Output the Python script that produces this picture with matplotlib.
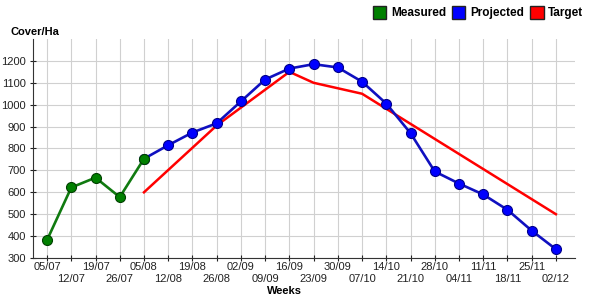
import numpy as np
import matplotlib
matplotlib.use('Agg')
import matplotlib.pyplot as plt
from matplotlib.patches import Patch

plt.rcParams['font.family'] = ['Liberation Sans', 'DejaVu Sans']

weeks = ['05/07', '12/07', '19/07', '26/07', '05/08', '12/08', '19/08', '26/08',
         '02/09', '09/09', '16/09', '23/09', '30/09', '07/10', '14/10', '21/10',
         '28/10', '04/11', '11/11', '18/11', '25/11', '02/12']

measured_idx = [0, 1, 2, 3, 4]
measured = [382, 622, 667, 578, 753]

projected_idx = list(range(4, 22))
projected = [753, 815, 873, 915, 1015, 1115, 1165, 1185, 1170, 1105, 1005,
             870, 695, 640, 590, 520, 425, 340]

target_idx = [4, 7, 10, 11, 13, 21]
target = [600, 905, 1150, 1100, 1050, 500]

fig = plt.figure(figsize=(6, 3.02), dpi=100)
ax = fig.add_axes([0.055, 0.1457, 0.903, 0.7252])

ax.plot(target_idx, target, color='#ff0000', lw=1.8, zorder=3)
ax.plot(projected_idx, projected, color='#1010c0', lw=1.9, marker='o', ms=7.2,
        mfc='#0000ff', mec='#00008a', mew=0.8, zorder=4)
ax.plot(measured_idx, measured, color='#107a10', lw=1.9, marker='o', ms=7.2,
        mfc='#008000', mec='#004000', mew=0.8, zorder=5)

ax.set_xlim(-0.58, 21.78)
ax.set_ylim(300, 1300)
ax.set_yticks(np.arange(300, 1201, 100))

# alternate week labels on two rows: even weeks as major, odd as minor ticks
even = list(range(0, len(weeks), 2))
odd = list(range(1, len(weeks), 2))
ax.set_xticks(even)
ax.set_xticklabels([weeks[i] for i in even])
ax.set_xticks(odd, minor=True)
ax.set_xticklabels([weeks[i] for i in odd], minor=True)
ax.tick_params(axis='x', which='major', length=4, width=0.8, direction='inout', pad=1,
               labelsize=8, colors='#222222')
ax.tick_params(axis='x', which='minor', length=4, width=0.8, direction='inout', pad=9.5,
               labelsize=8, colors='#222222')
ax.tick_params(axis='y', length=4, width=0.8, direction='inout', pad=3, labelsize=8, colors='#222222')

ax.grid(True, which='both', axis='x', color='#d0d0d0', lw=0.8)
ax.grid(True, axis='y', color='#d0d0d0', lw=0.8)
ax.set_axisbelow(True)
for s in ['top', 'right']:
    ax.spines[s].set_visible(False)
ax.spines['left'].set_color('#333333')
ax.spines['bottom'].set_color('#333333')

ax.set_xlabel('Weeks', fontsize=8, fontweight='bold')
ax.xaxis.set_label_coords(0.465, -0.127)
fig.text(0.018, 0.895, 'Cover/Ha', fontsize=8, fontweight='bold', ha='left', va='center')

handles = [Patch(facecolor='#008000', edgecolor='#222222', label='Measured'),
           Patch(facecolor='#0000ff', edgecolor='#222222', label='Projected'),
           Patch(facecolor='#ff0000', edgecolor='#222222', label='Target')]
fig.legend(handles=handles, loc='upper right', bbox_to_anchor=(0.99, 1.015), ncol=3,
           frameon=False, handlelength=1.15, handleheight=1.3, handletextpad=0.4,
           columnspacing=0.5, prop={'size': 8.5, 'weight': 'bold'})

fig.savefig('out.png', dpi=100)
